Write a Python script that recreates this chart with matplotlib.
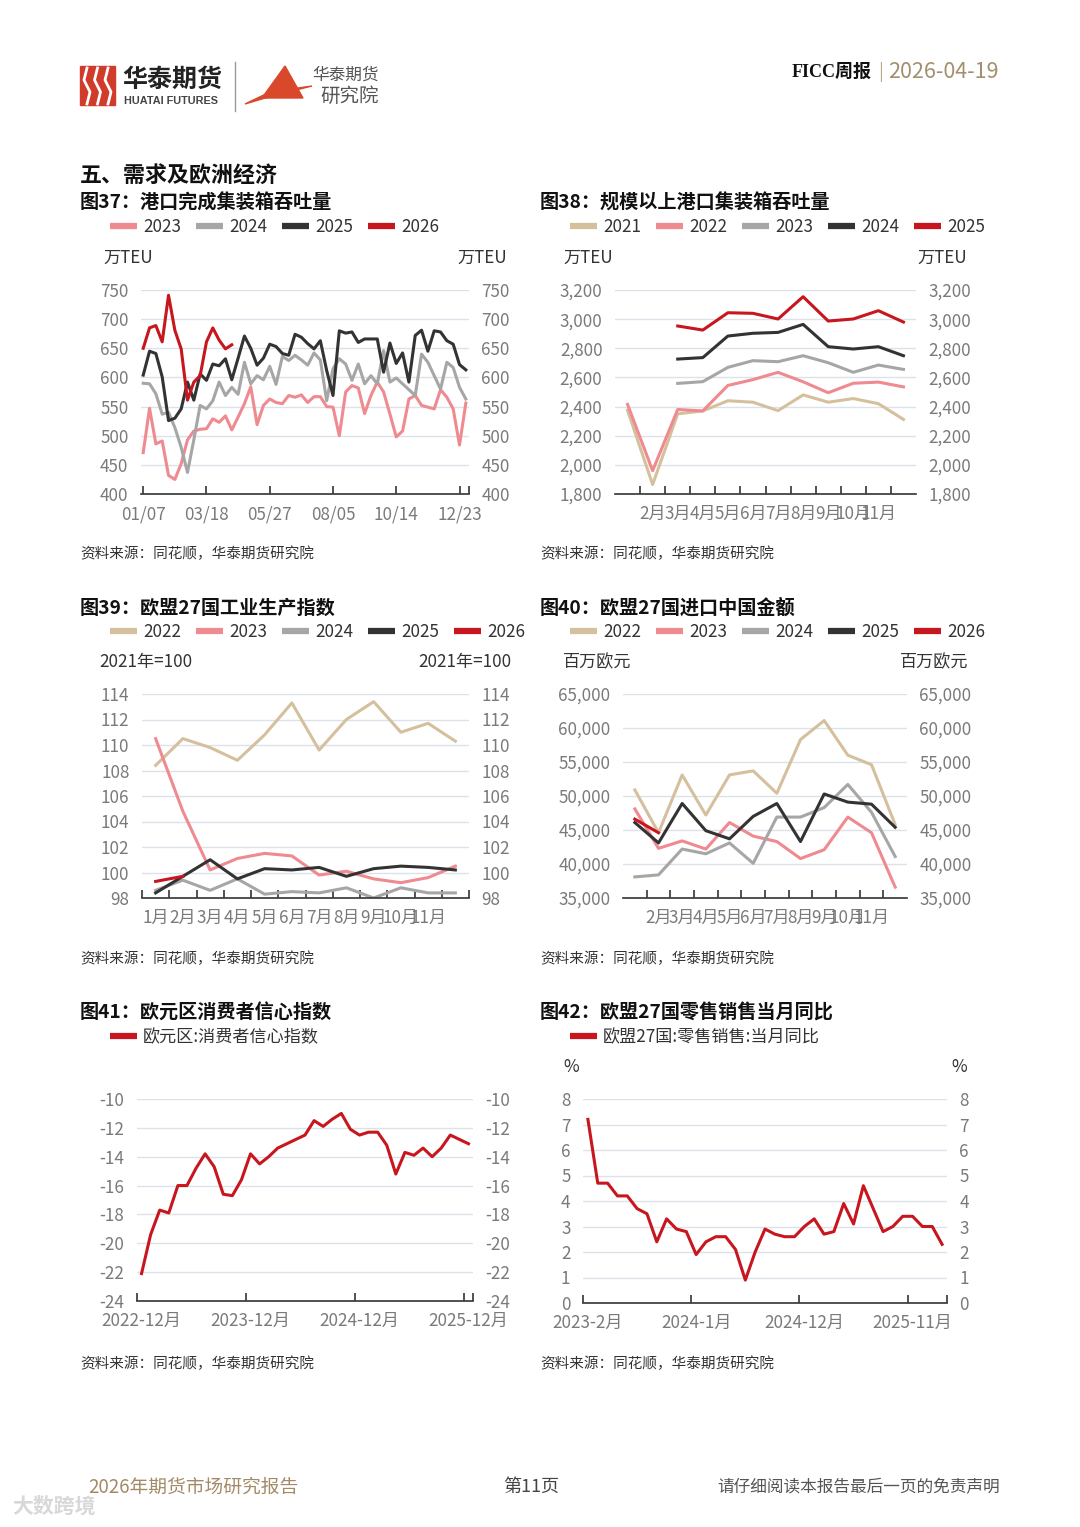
import matplotlib
matplotlib.use("Agg")
import matplotlib.pyplot as plt
from matplotlib.lines import Line2D
from matplotlib.patches import Polygon, Rectangle
from matplotlib.ticker import FuncFormatter
import numpy as np
import pandas as pd

plt.rcParams['font.family'] = ['Noto Sans CJK SC', 'DejaVu Sans']

# ---- 图37: 港口完成集装箱吞吐量 (weekly, 万TEU)
port_weeks = pd.date_range("2025-01-07", periods=52, freq="7D")
port_2023 = [471, 547, 486, 491, 432, 425, 452, 493, 508, 511, 512, 529, 523, 534, 510, 532,
             555, 584, 519, 552, 563, 557, 555, 569, 566, 570, 557, 567, 567, 550, 549, 500,
             575, 586, 582, 538, 569, 592, 575, 537, 498, 508, 563, 569, 552, 549, 546, 579,
             566, 546, 484, 556]
port_2024 = [590, 589, 572, 537, 540, 514, 480, 437, 493, 552, 546, 560, 592, 569, 583, 571,
             626, 589, 603, 596, 619, 588, 636, 629, 638, 630, 621, 642, 630, 560, 615, 632,
             623, 595, 623, 589, 603, 589, 646, 592, 599, 589, 579, 569, 640, 626, 603, 580,
             626, 617, 583, 563]
port_2025 = [604, 645, 641, 601, 526, 530, 546, 592, 561, 606, 595, 623, 620, 632, 596, 633,
             671, 650, 621, 633, 657, 653, 641, 638, 674, 669, 658, 649, 663, 612, 569, 680,
             676, 678, 660, 666, 666, 666, 609, 659, 624, 642, 592, 672, 681, 645, 680, 678,
             663, 657, 622, 613]
port_2026 = [650, 685, 689, 661, 741, 681, 649, 561, 592, 603, 661, 685, 664, 649, 656]

# ---- 图38: 规模以上港口集装箱吞吐量 (monthly, 万TEU)
month_names = [f"{m}月" for m in range(1, 13)]
nan = np.nan
big_2021 = [2375, 1865, 2350, 2370, 2440, 2430, 2372, 2480, 2430, 2455, 2420, 2312]
big_2022 = [2415, 1960, 2380, 2370, 2545, 2585, 2635, 2570, 2495, 2560, 2568, 2535]
big_2023 = [nan, nan, 2559, 2571, 2669, 2715, 2708, 2749, 2701, 2635, 2685, 2655]
big_2024 = [nan, nan, 2726, 2736, 2884, 2903, 2909, 2964, 2811, 2795, 2811, 2749]
big_2025 = [nan, nan, 2953, 2925, 3044, 3040, 3001, 3154, 2987, 3001, 3058, 2980]

# ---- 图39: 欧盟27国工业生产指数 (2021年=100)
ip_2022 = [108.4, 110.5, 109.8, 108.8, 110.8, 113.3, 109.6, 112.0, 113.4, 111.0, 111.7, 110.3]
ip_2023 = [110.5, 104.8, 100.2, 101.1, 101.5, 101.3, 99.8, 100.1, 99.5, 99.2, 99.6, 100.5]
ip_2024 = [98.6, 99.4, 98.6, 99.5, 98.3, 98.5, 98.4, 98.8, 98.0, 98.8, 98.4, 98.4]
ip_2025 = [98.4, 99.7, 101.0, 99.5, 100.3, 100.2, 100.4, 99.7, 100.3, 100.5, 100.4, 100.2]
ip_2026 = [99.3, 99.7]

# ---- 图40: 欧盟27国进口中国金额 (百万欧元)
imp_2022 = [50900, 44600, 53100, 47200, 53100, 53700, 50400, 58300, 61100, 56000, 54600, 45800]
imp_2023 = [48100, 42300, 43400, 42200, 46100, 44100, 43300, 40800, 42100, 46900, 44600, 36600]
imp_2024 = [38100, 38400, 42200, 41500, 43100, 40100, 46900, 46900, 48300, 51700, 47600, 41100]
imp_2025 = [46100, 43100, 48900, 44900, 43700, 47000, 48900, 43300, 50300, 49100, 48800, 45400]
imp_2026 = [46600, 44600]

# ---- 图41: 欧元区消费者信心指数 (monthly from 2022-12)
conf_months = pd.date_range("2022-12-01", periods=37, freq="MS")
conf_vals = [-22.1, -19.4, -17.7, -17.9, -16.0, -16.0, -14.8, -13.8, -14.7, -16.6, -16.7, -15.6,
             -13.8, -14.5, -14.0, -13.4, -13.1, -12.8, -12.5, -11.5, -11.9, -11.4, -11.0, -12.1,
             -12.5, -12.3, -12.3, -13.2, -15.2, -13.7, -13.9, -13.4, -14.0, -13.4, -12.5, -12.8,
             -13.1]

# ---- 图42: 欧盟27国零售销售当月同比 (monthly from 2023-02, %)
retail_months = pd.date_range("2023-02-01", periods=37, freq="MS")
retail_vals = [7.2, 4.7, 4.7, 4.2, 4.2, 3.7, 3.5, 2.4, 3.3, 2.9, 2.8, 1.9, 2.4, 2.6, 2.6, 2.1,
               0.9, 2.0, 2.9, 2.7, 2.6, 2.6, 3.0, 3.3, 2.7, 2.8, 3.9, 3.1, 4.6, 3.7, 2.8, 3.0,
               3.4, 3.4, 3.0, 3.0, 2.3]

RED = "#c8161e"
PINK = "#ef8a90"
GRAY = "#a6a6a6"
BLACK = "#333333"
TAN = "#d5c09e"
TICKC = "#7a7a7a"
GRID = "#dde1ea"
LW = 2.2

W, H = 1080, 1527
fig = plt.figure(figsize=(W / 100, H / 100), dpi=100)


def fx(x):
    return x / W


def fy(y):
    return 1 - y / H


def text(x, y, s, **kw):
    kw.setdefault("va", "center")
    fig.text(fx(x), fy(y), s, **kw)


def axes_at(x0, y0, x1, y1):
    return fig.add_axes([fx(x0), fy(y1), (x1 - x0) / W, (y1 - y0) / H])


def legend_row(x0, y, labels, colors, step=86):
    for i, (lab, c) in enumerate(zip(labels, colors)):
        x = x0 + i * step
        fig.add_artist(Line2D([fx(x), fx(x + 27)], [fy(y), fy(y)], color=c, lw=4.5,
                              solid_capstyle="butt", transform=fig.transFigure))
        text(x + 33, y + 1, lab, fontsize=12.3, color="#333333")


def style(ax, ylim, yticks, comma=False):
    ax.set_ylim(*ylim)
    ax.set_yticks(yticks)
    for s in ["top", "left", "right"]:
        ax.spines[s].set_visible(False)
    ax.spines["bottom"].set_color("#333333")
    ax.spines["bottom"].set_linewidth(1.2)
    ax.grid(axis="y", color=GRID, lw=1)
    ax.set_axisbelow(True)
    ax.tick_params(axis="y", length=0, labelsize=12.3, labelcolor=TICKC, pad=9,
                   labelright=True)
    ax.tick_params(axis="x", labelsize=12.3, labelcolor=TICKC, color="#333333",
                   direction="in", length=6, width=1.2, pad=8)
    if comma:
        ax.yaxis.set_major_formatter(FuncFormatter(lambda v, p: f"{v:,.0f}"))
    else:
        ax.yaxis.set_major_formatter(FuncFormatter(lambda v, p: f"{v:.0f}"))


def bound_ticks(ax, pos):
    ax.tick_params(axis="x", which="major", length=0)
    ax.set_xticks(pos, minor=True)
    ax.tick_params(axis="x", which="minor", direction="in", length=6, width=1.2,
                   color="#333333")


def source(x, y):
    text(x, y, "资料来源：同花顺，华泰期货研究院", fontsize=10.5, color="#333333",
         fontstyle="italic")


# ---------------- header
fig.add_artist(Rectangle((fx(80), fy(105)), 35 / W, 39 / H, color="#d13b2b",
                         transform=fig.transFigure))
for xx in [87, 97.5, 108]:
    fig.add_artist(Line2D([fx(xx), fx(xx - 3), fx(xx + 3), fx(xx)],
                          [fy(68), fy(80), fy(92), fy(104)], color="white", lw=2,
                          transform=fig.transFigure))
text(122, 80, "华泰期货", fontsize=18, fontweight="bold", color="#222222")
text(124, 101, "HUATAI FUTURES", fontsize=7.8, fontweight="bold", color="#444444",
     family=["Liberation Sans", "DejaVu Sans"])
fig.add_artist(Line2D([fx(235), fx(235)], [fy(62), fy(111)], color="#999999", lw=1,
                      transform=fig.transFigure))
fig.add_artist(Polygon([(fx(285), fy(66)), (fx(262), fy(98)), (fx(303), fy(98))],
                       closed=True, color="#d9482b", transform=fig.transFigure))
fig.add_artist(Polygon([(fx(245), fy(104)), (fx(270), fy(92)), (fx(312), fy(86)),
                        (fx(272), fy(96))], closed=True, color="#d9482b",
                       transform=fig.transFigure))
text(312, 75, "华泰期货", fontsize=12, color="#555555")
text(320, 96, "研究院", fontsize=14, color="#555555")

text(792, 72, "FICC周报", fontsize=13, fontweight="bold", color="#111111",
     family=["Liberation Serif", "Noto Sans CJK SC"])
text(878, 72, "|", fontsize=13, color="#b8a88c")
text(888, 72, "2026-04-19", fontsize=15.5, color="#a38f6e")

text(80, 175, "五、需求及欧洲经济", fontsize=15.8, fontweight="bold", color="#111111")

# ---------------- 图37
text(80, 203, "图37：港口完成集装箱吞吐量", fontsize=13.8, fontweight="bold", color="#111111")
legend_row(110, 226, ["2023", "2024", "2025", "2026"], [PINK, GRAY, BLACK, RED])
text(103, 258, "万TEU", fontsize=12.3, color="#333333")
text(507, 258, "万TEU", fontsize=12.3, color="#333333", ha="right")
ax = axes_at(141, 290, 469, 494)
xw = np.arange(len(port_weeks))
ax.plot(xw, port_2023, color=PINK, lw=LW)
ax.plot(xw, port_2024, color=GRAY, lw=LW)
ax.plot(xw, port_2025, color=BLACK, lw=LW)
ax.plot(xw[:len(port_2026)], port_2026, color=RED, lw=LW)
style(ax, (400, 750), range(400, 751, 50))
ax.set_xlim(-0.35, 51.5)
lab_idx = list(range(0, 52, 10))
ax.set_xticks(lab_idx, [port_weeks[i].strftime("%m/%d") for i in lab_idx])
ax.set_xticks([51.5], minor=True)
ax.tick_params(axis="x", which="minor", direction="in", length=6, width=1.2, color="#333333")
source(80, 554)

# ---------------- 图38
text(540, 203, "图38：规模以上港口集装箱吞吐量", fontsize=13.8, fontweight="bold", color="#111111")
legend_row(570, 226, ["2021", "2022", "2023", "2024", "2025"], [TAN, PINK, GRAY, BLACK, RED])
text(563, 258, "万TEU", fontsize=12.3, color="#333333")
text(967, 258, "万TEU", fontsize=12.3, color="#333333", ha="right")
ax = axes_at(615, 290, 916, 494)
xm = np.arange(12)
for ser, c in [(big_2021, TAN), (big_2022, PINK), (big_2023, GRAY), (big_2024, BLACK), (big_2025, RED)]:
    ax.plot(xm, ser, color=c, lw=LW)
style(ax, (1800, 3200), range(1800, 3201, 200), comma=True)
ax.set_xlim(-0.5, 11.5)
ax.set_xticks(range(1, 11), month_names[1:11])
bound_ticks(ax, np.arange(0.5, 11, 1))
source(540, 554)

# ---------------- 图39
text(80, 608, "图39：欧盟27国工业生产指数", fontsize=13.8, fontweight="bold", color="#111111")
legend_row(110, 631, ["2022", "2023", "2024", "2025", "2026"], [TAN, PINK, GRAY, BLACK, RED])
text(99, 662, "2021年=100", fontsize=12.3, color="#333333")
text(511, 662, "2021年=100", fontsize=12.3, color="#333333", ha="right")
ax = axes_at(142, 694, 469, 898)
for ser, c in [(ip_2022, TAN), (ip_2023, PINK), (ip_2024, GRAY), (ip_2025, BLACK), (ip_2026, RED)]:
    ax.plot(xm[:len(ser)], ser, color=c, lw=LW)
style(ax, (98, 114), range(98, 115, 2))
ax.set_xlim(-0.5, 11.5)
ax.set_xticks(range(0, 11), month_names[0:11])
bound_ticks(ax, np.arange(-0.5, 12, 1))
source(80, 959)

# ---------------- 图40
text(540, 608, "图40：欧盟27国进口中国金额", fontsize=13.8, fontweight="bold", color="#111111")
legend_row(570, 631, ["2022", "2023", "2024", "2025", "2026"], [TAN, PINK, GRAY, BLACK, RED])
text(563, 662, "百万欧元", fontsize=12.3, color="#333333")
text(968, 662, "百万欧元", fontsize=12.3, color="#333333", ha="right")
ax = axes_at(623, 694, 907, 898)
for ser, c in [(imp_2022, TAN), (imp_2023, PINK), (imp_2024, GRAY), (imp_2025, BLACK), (imp_2026, RED)]:
    ax.plot(xm[:len(ser)], ser, color=c, lw=LW)
style(ax, (35000, 65000), range(35000, 65001, 5000), comma=True)
ax.set_xlim(-0.5, 11.5)
ax.set_xticks(range(1, 11), month_names[1:11])
bound_ticks(ax, np.arange(0.5, 11, 1))
source(540, 959)

# ---------------- 图41
text(80, 1013, "图41：欧元区消费者信心指数", fontsize=13.8, fontweight="bold", color="#111111")
legend_row(110, 1036, ["欧元区:消费者信心指数"], [RED])
ax = axes_at(137, 1099, 473, 1301)
xc = np.arange(len(conf_months))
ax.plot(xc, conf_vals, color=RED, lw=LW)
style(ax, (-24, -10), range(-24, -9, 2))
ax.set_xlim(-0.5, len(conf_months) - 0.5)
ci = [i for i, d in enumerate(conf_months) if d.month == 12]
ax.set_xticks(ci, [f"{conf_months[i].year}-{conf_months[i].month}月" for i in ci])
bound_ticks(ax, [i - 0.5 for i in ci] + [len(conf_months) - 0.5])
source(80, 1364)

# ---------------- 图42
text(540, 1013, "图42：欧盟27国零售销售当月同比", fontsize=13.8, fontweight="bold", color="#111111")
legend_row(570, 1036, ["欧盟27国:零售销售:当月同比"], [RED])
text(563, 1067, "%", fontsize=12.3, color="#333333")
text(967, 1067, "%", fontsize=12.3, color="#333333", ha="right")
ax = axes_at(583, 1099, 947, 1303)
xr = np.arange(len(retail_months))
ax.plot(xr, retail_vals, color=RED, lw=LW)
style(ax, (0, 8), range(0, 9, 1))
ax.set_xlim(-0.5, len(retail_months) - 0.5)
ri = list(range(0, len(retail_months), 11))
ax.set_xticks(ri, [f"{retail_months[i].year}-{retail_months[i].month}月" for i in ri])
bound_ticks(ax, [i - 0.5 for i in ri] + [len(retail_months) - 0.5])
source(540, 1364)

# ---------------- footer
text(88, 1487, "2026年期货市场研究报告", fontsize=13.5, color="#a38a66")
text(531, 1487, "第11页", fontsize=13, color="#444444", ha="center")
text(1000, 1488, "请仔细阅读本报告最后一页的免责声明", fontsize=12, color="#555555", ha="right")
text(12, 1506, "大数跨境", fontsize=15, color="#d8d8d8", fontweight="bold")

fig.savefig("out.png", dpi=100)
